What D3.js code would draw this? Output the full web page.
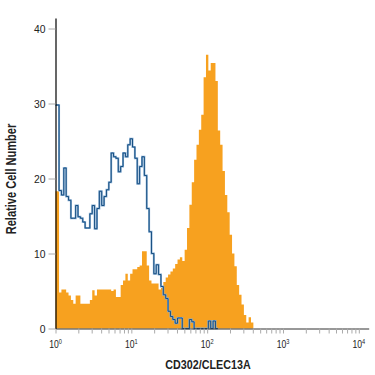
<!DOCTYPE html>
<html>
<head>
<meta charset="utf-8">
<script src="https://cdn.jsdelivr.net/npm/d3@7"></script>
<style>
  body { margin: 0; background: #fff; }
  text { font-family: "Liberation Sans", Arial, sans-serif; }
</style>
</head>
<body>
<div class="canvas"></div>
<script>
// histogram channels: 32 bins per decade, starting at 10^0
const binsPerDecade = 32;

// CD302/CLEC13A stained (orange, filled)
const orangeCounts = [
  18.3, 4.8, 5.2, 5.2, 4.8, 4.4, 3.8, 3.3, 4.4, 4.4,
  3.3, 3.3, 3.3, 3.3, 3.8, 5.1, 4.4, 5.2, 5.2, 5.2,
  5.2, 5.2, 5.2, 5.0, 5.2, 4.2, 4.2, 5.8, 6.4, 7.3,
  6.4, 7.3, 7.9, 7.9, 8.2, 8.4, 10.3, 10.3, 8.4, 6.4,
  6.0, 6.0, 6.0, 5.2, 5.4, 6.2, 6.8, 7.2, 7.6, 8.0,
  8.6, 9.2, 9.5, 9.0, 10.5, 13.4, 16.5, 19.5, 22.5, 24.5,
  26.5, 28.5, 33.5, 36.5, 34.4, 35.4, 35.4, 33.0, 26.4, 24.5,
  21.0, 17.8, 15.5, 12.5, 10.0, 8.3, 5.8, 4.5, 3.2, 1.8,
  0.8, 1.5, 0.8
];

// isotype control (blue outline)
const blueCounts = [
  29.8, 18.4, 17.8, 21.4, 17.6, 17.1, 14.7, 14.7, 16.4, 14.9,
  14.7, 14.2, 13.4, 13.4, 15.3, 16.4, 13.3, 16.0, 18.3, 16.4,
  17.6, 18.5, 19.5, 23.4, 22.9, 22.7, 20.9, 21.6, 23.4, 22.9,
  24.5, 25.3, 24.2, 22.7, 19.3, 21.6, 22.9, 20.4, 16.0, 12.9,
  10.0, 7.3, 8.5, 7.2, 5.6, 4.5, 4.0, 2.3, 1.6, 1.2,
  0.7, 1.4, 1.4, 0, 0, 0, 1.2, 0.9, 0, 0,
  0, 0, 0, 0, 1.0, 0, 1.0, 0
];

const yTicks = [0, 10, 20, 30, 40];
const xMajor = [1, 10, 100, 1000, 10000];

const svg = d3.select(".canvas")
  .append("svg")
    .attr("width", 375)
    .attr("height", 375);

// SCALES
const x = d3.scaleLog()
  .domain([1, 13500])
  .range([55.5, 368.7]);

const y = d3.scaleLinear()
  .domain([0, 41.4])
  .range([328.5, 18]);

// bin edges sit half a channel right, first bin is clipped at 10^0
const edge = i => i === 0 ? 1 : Math.pow(10, (i + 0.5) / binsPerDecade);

// turn counts into step points (last point closes the final bin)
const steps = counts => counts.map((v, i) => ({ x: edge(i), v }))
  .concat([{ x: edge(counts.length), v: counts[counts.length - 1] }]);

// ORANGE FILLED HISTOGRAM
const area = d3.area()
  .curve(d3.curveStepAfter)
  .x(d => x(d.x))
  .y0(y(0))
  .y1(d => y(d.v));

svg.append("path")
  .datum(steps(orangeCounts))
  .attr("fill", "#f7a11f")
  .attr("d", area);

// BLUE OUTLINE HISTOGRAM - light halo + dark core
const line = d3.line()
  .curve(d3.curveStepAfter)
  .x(d => x(d.x))
  .y(d => y(d.v));

const bluePts = steps(blueCounts);

svg.append("path")
  .datum(bluePts)
  .attr("fill", "none")
  .attr("stroke", "#86add2")
  .attr("stroke-width", 2)
  .attr("d", line);

svg.append("path")
  .datum(bluePts)
  .attr("fill", "none")
  .attr("stroke", "#174f82")
  .attr("stroke-width", 1)
  .attr("d", line);

// X AXIS - ticks at 1..9 of every decade
const xTickVals = [];
for (let k = 0; k < 4; k++) {
  for (let m = 1; m <= 9; m++) xTickVals.push(m * Math.pow(10, k));
}
xTickVals.push(10000);

const xAxis = svg.append("g")
  .attr("transform", `translate(0, ${y(0)})`)
  .call(d3.axisBottom(x).tickValues(xTickVals).tickSize(5).tickSizeOuter(0).tickFormat(""));

xAxis.select(".domain").attr("stroke", "#333").attr("stroke-width", 1.2);
xAxis.selectAll(".tick line").attr("stroke", "#aaa").attr("stroke-width", 1);

// decade labels with superscript, squeezed to look condensed
const xLab = svg.append("g")
  .selectAll("g")
  .data(xMajor)
  .enter()
    .append("g")
    .attr("transform", d => `translate(${x(d)}, 348) scale(0.75, 1)`)
    .append("text")
    .attr("text-anchor", "middle")
    .attr("font-size", 11.5)
    .attr("fill", "#222");

xLab.append("tspan").text("10");
xLab.append("tspan")
  .attr("dy", -4.5)
  .attr("font-size", 7.5)
  .text(d => Math.round(Math.log10(d)));

// Y AXIS
const yAxis = svg.append("g")
  .attr("transform", `translate(${x(1)}, 0)`)
  .call(d3.axisLeft(y).tickValues(yTicks).tickSize(7).tickSizeOuter(0).tickPadding(3));

yAxis.select(".domain").attr("stroke", "#000").attr("stroke-width", 1.2);
yAxis.selectAll(".tick line").attr("stroke", "#aaa");
yAxis.selectAll(".tick text")
  .attr("font-size", 11.5)
  .attr("fill", "#222")
  .style("font-family", null)
  .attr("transform", "scale(0.9, 1)")
  .attr("x", -10 / 0.9);

// AXIS TITLES
svg.append("text")
  .attr("transform", "translate(208, 369) scale(0.86, 1)")
  .attr("text-anchor", "middle")
  .attr("font-size", 12.5)
  .attr("font-weight", "bold")
  .attr("fill", "#222")
  .text("CD302/CLEC13A");

svg.append("text")
  .attr("transform", "translate(16, 179) rotate(-90) scale(0.79, 1)")
  .attr("text-anchor", "middle")
  .attr("font-size", 14)
  .attr("font-weight", "bold")
  .attr("fill", "#222")
  .text("Relative Cell Number");
</script>
</body>
</html>
